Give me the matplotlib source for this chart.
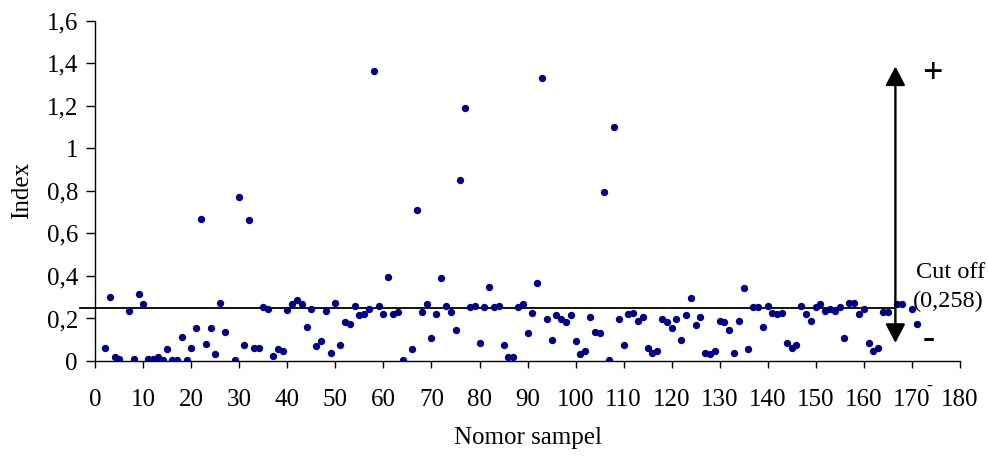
import matplotlib
matplotlib.use('Agg')
import matplotlib.pyplot as plt

plt.rcParams['font.family'] = ['Liberation Serif', 'DejaVu Serif']

# sample number and index value
sample = [2, 3, 4, 5, 7, 8, 9, 10, 11, 12, 13, 14, 15, 16, 17, 18, 19, 20,
          21, 22, 23, 24, 25, 26, 27, 29, 30, 31, 32, 33, 34, 35, 36, 37, 38,
          39, 40, 41, 42, 43, 44, 45, 46, 47, 48, 49, 50, 51, 52, 53, 54, 55,
          56, 57, 58, 59, 60, 61, 62, 63, 64, 66, 67, 68, 69, 70, 71, 72, 73,
          74, 75, 76, 77, 78, 79, 80, 81, 82, 83, 84, 85, 86, 87, 88, 89, 90,
          91, 92, 93, 94, 95, 96, 97, 98, 99, 100, 101, 102, 103, 104, 105,
          106, 107, 108, 109, 110, 111, 112, 113, 114, 115, 116, 117, 118,
          119, 120, 121, 122, 123, 124, 125, 126, 127, 128, 129, 130, 131,
          132, 133, 134, 135, 136, 137, 138, 139, 140, 141, 142, 143, 144,
          145, 146, 147, 148, 149, 150, 151, 152, 153, 154, 155, 156, 157,
          158, 159, 160, 161, 162, 163, 164, 165, 166, 167, 168, 170, 171]
index = [0.063, 0.303, 0.017, 0.009, 0.236, 0.009, 0.313, 0.267, 0.009, 0.009,
         0.017, 0.003, 0.055, 0.003, 0.003, 0.115, 0.003, 0.063, 0.153, 0.667,
         0.079, 0.153, 0.031, 0.274, 0.138, 0.003, 0.772, 0.077, 0.665, 0.063,
         0.063, 0.252, 0.244, 0.025, 0.055, 0.047, 0.242, 0.267, 0.289, 0.267,
         0.160, 0.244, 0.069, 0.093, 0.236, 0.039, 0.274, 0.077, 0.184, 0.176,
         0.259, 0.214, 0.221, 0.244, 1.365, 0.259, 0.221, 0.395, 0.221, 0.229,
         0.003, 0.055, 0.712, 0.229, 0.267, 0.108, 0.221, 0.388, 0.259, 0.229,
         0.146, 0.849, 1.189, 0.252, 0.259, 0.085, 0.252, 0.349, 0.252, 0.259,
         0.077, 0.017, 0.017, 0.252, 0.267, 0.130, 0.228, 0.365, 1.332, 0.198,
         0.101, 0.214, 0.198, 0.182, 0.214, 0.093, 0.031, 0.047, 0.206, 0.138,
         0.130, 0.796, 0.003, 1.098, 0.198, 0.077, 0.221, 0.228, 0.190, 0.206,
         0.063, 0.039, 0.047, 0.198, 0.182, 0.153, 0.198, 0.101, 0.214, 0.297,
         0.168, 0.206, 0.039, 0.031, 0.047, 0.190, 0.182, 0.146, 0.039, 0.190,
         0.341, 0.055, 0.252, 0.252, 0.160, 0.259, 0.228, 0.221, 0.228, 0.085,
         0.063, 0.077, 0.259, 0.221, 0.190, 0.252, 0.267, 0.236, 0.244, 0.236,
         0.252, 0.108, 0.274, 0.274, 0.221, 0.244, 0.085, 0.045, 0.063, 0.229,
         0.229, 0.162, 0.267, 0.267, 0.244, 0.176]

cutoff = 0.247
xticks = list(range(0, 181, 10))
yticks = [0, 0.2, 0.4, 0.6, 0.8, 1.0, 1.2, 1.4, 1.6]
ylabels = ['0', '0,2', '0,4', '0,6', '0,8', '1', '1,2', '1,4', '1,6']

fig = plt.figure(figsize=(9.88, 4.59), dpi=100)
ax = fig.add_axes([0.0965, 0.2135, 0.8749, 0.7414])

ax.scatter(sample, index, s=28, color='#000080', zorder=3, linewidths=0)

# cut off line, runs a bit left of the y axis
ax.plot([-3.2, 166.6], [cutoff, cutoff], color='black', lw=1.3, clip_on=False, zorder=2)

# double headed arrow
ax.annotate('', xy=(166.6, 1.385), xytext=(166.6, 0.085),
            arrowprops=dict(arrowstyle='<|-|>,head_length=1.15,head_width=0.6',
                            color='black', lw=1.7, shrinkA=0, shrinkB=0),
            annotation_clip=False)

ax.text(174.3, 1.346, '+', fontsize=26, fontweight='bold', ha='center', va='center')
ax.text(173.5, 0.099, '-', fontsize=26, fontweight='bold', ha='center', va='center')
ax.text(173.7, -0.12, '-', fontsize=13, ha='center', va='center', clip_on=False)
ax.text(170.8, 0.415, 'Cut off', fontsize=17.5, ha='left', va='center')
ax.text(170.3, 0.279, '(0,258)', fontsize=17.5, ha='left', va='center')

ax.set_xlim(0, 180)
ax.set_ylim(0, 1.6)
ax.set_xticks(xticks)
ax.set_yticks(yticks)
ax.set_yticklabels(ylabels)
ax.tick_params(axis='x', direction='out', length=5, width=1, pad=15, labelsize=18)
ax.tick_params(axis='y', direction='out', length=6.5, width=1, pad=6, labelsize=18)

for s in ['top', 'right']:
    ax.spines[s].set_visible(False)
ax.spines['left'].set_linewidth(1)
ax.spines['bottom'].set_linewidth(1)

ax.set_xlabel('Nomor sampel', fontsize=18, labelpad=12)
ax.set_ylabel('Index', fontsize=18, labelpad=10)

fig.savefig('out.png', dpi=100)
